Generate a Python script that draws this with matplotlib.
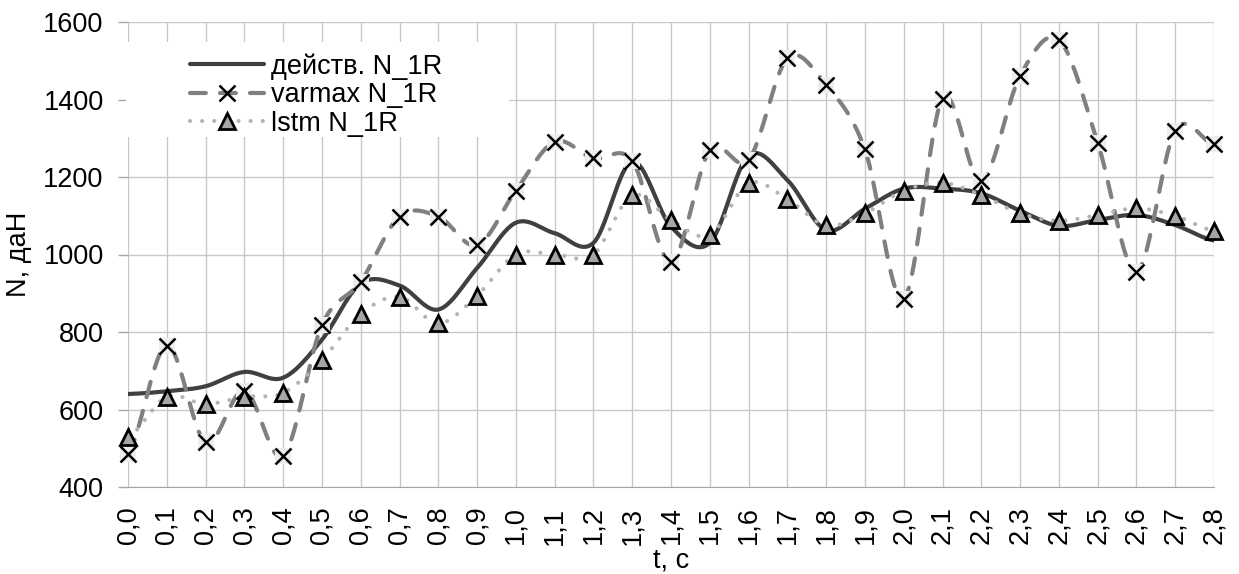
import numpy as np
import matplotlib
matplotlib.use("Agg")
import matplotlib.pyplot as plt
from matplotlib.patches import Rectangle

plt.rcParams['font.family'] = ['Liberation Sans', 'DejaVu Sans']

# время, с
t = [0.0, 0.1, 0.2, 0.3, 0.4, 0.5, 0.6, 0.7, 0.8, 0.9,
     1.0, 1.1, 1.2, 1.3, 1.4, 1.5, 1.6, 1.7, 1.8, 1.9,
     2.0, 2.1, 2.2, 2.3, 2.4, 2.5, 2.6, 2.7, 2.8]

# действительные значения N_1R, даН
fact = [640, 647, 660, 697, 682, 780, 925, 920, 858, 965,
        1082, 1055, 1030, 1240, 1072, 1030, 1255, 1192, 1063, 1118,
        1170, 1170, 1158, 1113, 1074, 1089, 1102, 1076, 1036]

# прогноз varmax
varmax = [485, 765, 515, 649, 481, 818, 930, 1098, 1098, 1024,
          1165, 1291, 1248, 1242, 981, 1269, 1244, 1506, 1437, 1271,
          885, 1402, 1190, 1461, 1554, 1289, 956, 1319, 1284]

# прогноз lstm
lstm = [528, 633, 614, 633, 643, 728, 846, 891, 822, 894,
        1000, 1000, 1000, 1153, 1089, 1050, 1184, 1143, 1075, 1106,
        1165, 1185, 1153, 1106, 1087, 1102, 1119, 1100, 1061]

labels = ["действ. N_1R", "varmax N_1R", "lstm N_1R"]


def smooth(y, n=24):
    """Сглаживание как в Excel (Catmull-Rom)."""
    y = np.asarray(y, float)
    p = np.concatenate([[y[0]], y, [y[-1]]])
    s = np.linspace(0, 1, n, endpoint=False)
    h00 = 2 * s**3 - 3 * s**2 + 1
    h10 = s**3 - 2 * s**2 + s
    h01 = -2 * s**3 + 3 * s**2
    h11 = s**3 - s**2
    xs, ys = [], []
    for i in range(len(y) - 1):
        p0, p1, p2, p3 = p[i], p[i + 1], p[i + 2], p[i + 3]
        m1 = (p2 - p0) / 2
        m2 = (p3 - p1) / 2
        xs.append(i + s)
        ys.append(h00 * p1 + h10 * m1 + h01 * p2 + h11 * m2)
    xs.append([len(y) - 1])
    ys.append([y[-1]])
    return np.concatenate(xs), np.concatenate(ys)


x = np.arange(len(t))

fig = plt.figure(figsize=(12.39, 5.74), dpi=100)
ax = fig.add_axes([128 / 1239, 87 / 574, 1086 / 1239, 465 / 574])
ax.set_axisbelow(True)

fs = 19.5

xs, ys = smooth(fact)
h1, = ax.plot(xs, ys, color='#404040', lw=3, solid_capstyle='round', zorder=3)

xs, ys = smooth(varmax)
ax.plot(xs, ys, color='#808080', lw=3, linestyle=(0, (3.8, 3.4)),
        dash_capstyle='round', zorder=4)
ax.plot(x, varmax, linestyle='none', marker='s', ms=12, color='#ededed',
        markeredgewidth=0, zorder=5, clip_on=False)
ax.plot(x, varmax, linestyle='none', marker='x', ms=11, mew=1.8,
        color='black', zorder=6, clip_on=False)

xs, ys = smooth(lstm)
ax.plot(xs, ys, color='#b4b4b4', lw=3, linestyle=(0, (0.01, 2.9)),
        dash_capstyle='round', zorder=7)
ax.plot(x, lstm, linestyle='none', marker='^', ms=11, mew=2,
        markerfacecolor='#a6a6a6', markeredgecolor='black', zorder=8,
        clip_on=False)

h2, = ax.plot([], [], color='#808080', lw=3, linestyle=(0, (3.8, 3.4)),
              dash_capstyle='round', marker='x', ms=11, mew=1.8,
              markeredgecolor='black')
h3, = ax.plot([], [], color='#b4b4b4', lw=3, linestyle=(0, (0.01, 2.9)),
              dash_capstyle='round', marker='^', ms=11, mew=2,
              markerfacecolor='#a6a6a6', markeredgecolor='black')

ax.set_xlim(0, len(t) - 1)
ax.set_ylim(400, 1600)
ax.set_yticks(range(400, 1601, 200))
ax.set_xticks(x)
ax.set_xticklabels([f"{v:.1f}".replace('.', ',') for v in t], rotation=90,
                   fontsize=fs)
ax.tick_params(axis='y', labelsize=fs, length=7, width=1, color='#a6a6a6',
               pad=10.5)
ax.tick_params(axis='x', length=0, pad=14)

ax.grid(True, color='#c8c8c8', lw=1)
for sp in ['top', 'right', 'left']:
    ax.spines[sp].set_visible(False)
ax.spines['bottom'].set_color('#a6a6a6')

ax.set_xlabel("t, с", fontsize=fs, labelpad=2)
ax.set_ylabel("N, даН", fontsize=fs, labelpad=8)

# белый фон легенды
ax.add_patch(Rectangle((126 / 1239, 1 - 137 / 574), 383 / 1239, 95 / 574,
                       transform=fig.transFigure, facecolor='white',
                       edgecolor='none', zorder=1, clip_on=False))

ax.legend([h1, h2, h3], labels, loc='upper left',
          bbox_to_anchor=(190 / 1239, 1 - 53 / 574),
          bbox_transform=fig.transFigure, frameon=False, fontsize=fs,
          borderpad=0, borderaxespad=0, handlelength=2.75,
          handletextpad=0.25, labelspacing=0.1)

fig.savefig("out.png", dpi=100)
